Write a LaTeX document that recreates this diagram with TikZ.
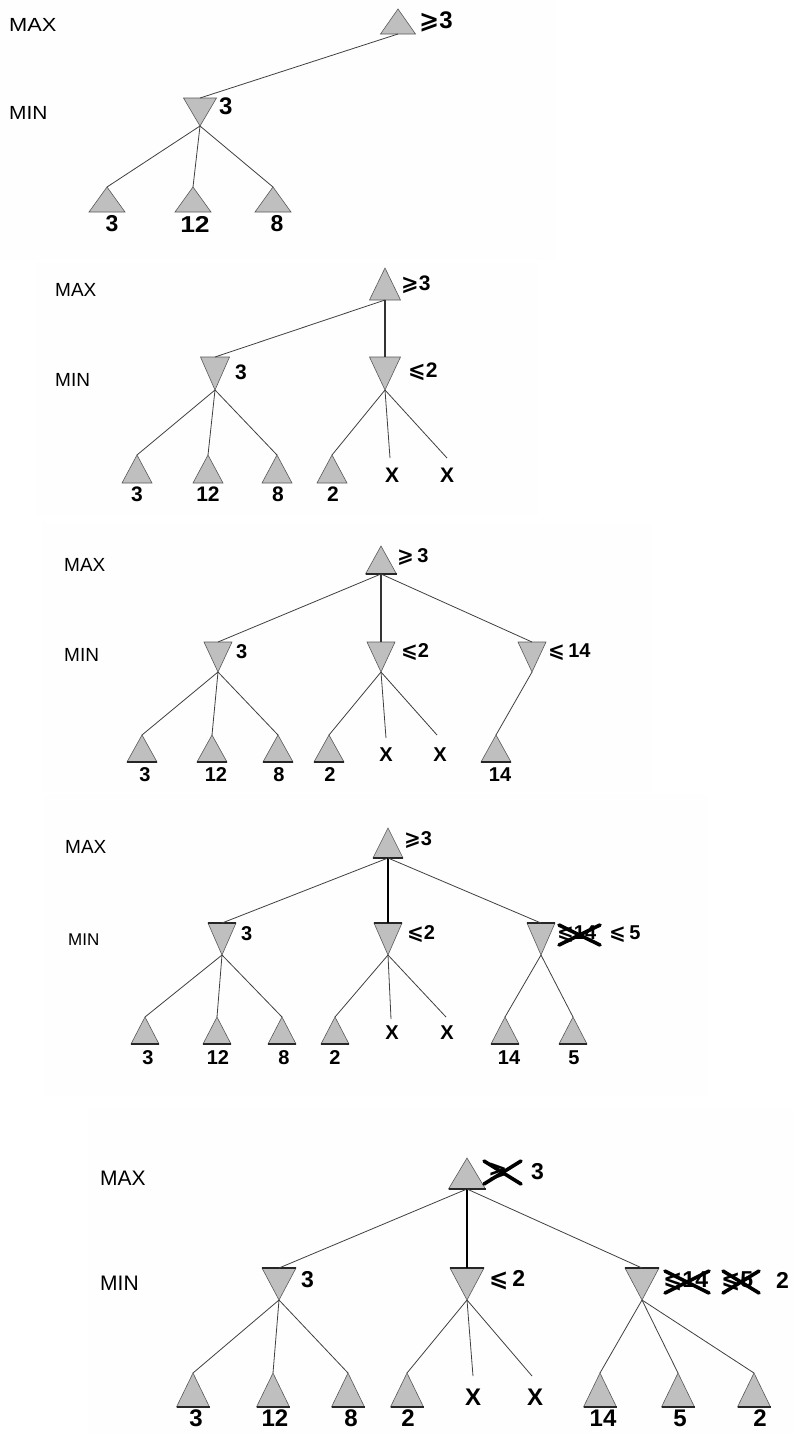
\documentclass[tikz,border=0pt]{standalone}
\usepackage{fontspec}
\setmainfont{Liberation Sans}
\newfontfamily\symb{DejaVu Sans}
\newcommand{\gqs}{{\symb ⩾}}
\newcommand{\lqs}{{\symb ⩽}}
\tikzset{
  panelbg/.style={fill=black!0.5},
  tri/.style={fill=gray!50, draw=black!65, line width=0.6pt, line join=miter},
  basel/.style={draw=black!85, line width=1.6pt},
  edge/.style={draw=black!75, line width=0.8pt},
  thickedge/.style={draw=black!80, line width=2.4pt},
  midedge/.style={draw=black, line width=1.3pt},
  crossl/.style={draw=black, line width=3.6pt, line cap=round},
  lvl/.style={anchor=west, inner sep=0pt, font=\fontsize{19}{19}\selectfont},
  val/.style={anchor=west, inner sep=0pt, font=\bfseries\fontsize{21}{21}\selectfont},
  leafv/.style={anchor=center, inner sep=0pt, font=\bfseries\fontsize{21}{21}\selectfont},
}
\newcommand{\MaxT}[5]{%
  \coordinate (#1t) at (#2,#3);
  \coordinate (#1b) at (#2,{#3+#5});
  \filldraw[tri] (#2,#3) -- ({#2-#4/2},{#3+#5}) -- ({#2+#4/2},{#3+#5}) -- cycle;}
\newcommand{\MaxTB}[5]{\MaxT{#1}{#2}{#3}{#4}{#5}%
  \draw[basel] ({#2-#4/2},{#3+#5}) -- ({#2+#4/2},{#3+#5});}
\newcommand{\MinT}[5]{%
  \coordinate (#1t) at (#2,#3);
  \coordinate (#1b) at (#2,{#3+#5});
  \filldraw[tri] ({#2-#4/2},#3) -- ({#2+#4/2},#3) -- (#2,{#3+#5}) -- cycle;}
\newcommand{\MinTB}[5]{\MinT{#1}{#2}{#3}{#4}{#5}%
  \draw[basel] ({#2-#4/2},#3) -- ({#2+#4/2},#3);}
\newcommand{\Xout}[4]{\draw[crossl] (#1,#2) -- (#3,#4); \draw[crossl] (#1,#4) -- (#3,#2);}
\begin{document}
\begin{tikzpicture}[x=1pt,y=-1pt]
\useasboundingbox (0,0) rectangle (793,1433);
% ---------------- panel backgrounds
\fill[panelbg] (0,0) rectangle (556,260);
\fill[panelbg] (36,262) rectangle (538,515);
\fill[panelbg] (42,523) rectangle (652,792);
\fill[panelbg] (44,794) rectangle (708,1095);
\fill[panelbg] (88,1108) rectangle (793,1433);

% ================= PANEL 1
\node[lvl] (p1max) at (9,25) {\scalebox{1.15}[1]{MAX}};
\node[lvl] (p1min) at (9,113) {\scalebox{1.1}[1]{MIN}};
\MaxT{p1r}{398}{9}{35}{25}
\node[val,font=\bfseries\fontsize{24}{24}\selectfont] (p1rv) at (419,22) {\gqs 3};
\MinT{p1m}{200}{98}{33}{28}
\node[val,font=\bfseries\fontsize{24}{24}\selectfont] (p1mv) at (219,106) {3};
\MaxT{p1a}{107}{187}{36}{25}
\MaxT{p1b}{193}{187}{36}{25}
\MaxT{p1c}{273}{187}{36}{25}
\begin{scope}[every node/.style={leafv,font=\bfseries\fontsize{23}{23}\selectfont}]
\node (p1av) at (112,224) {3};
\node (p1bv) at (195,224) {\scalebox{1.15}[1]{12}};
\node (p1cv) at (277,224) {8};
\end{scope}
\draw[edge] (p1rb) -- (p1mt);
\draw[edge] (p1mb) -- (p1at);
\draw[edge] (p1mb) -- (p1bt);
\draw[edge] (p1mb) -- (p1ct);

% ================= PANEL 2
\node[lvl] (p2max) at (55,290) {MAX};
\node[lvl] (p2min) at (55,380) {MIN};
\MaxT{p2r}{385}{268}{31}{32}
\node[val] (p2rv) at (401,285) {\gqs 3};
\MinT{p2m}{215}{357}{29}{33}
\node[val] (p2mv) at (235,372) {3};
\MinT{p2n}{385}{357}{31}{33}
\node[val] (p2nv) at (408,372) {\lqs 2};
\MaxT{p2a}{137}{455}{30}{28}
\MaxT{p2b}{208}{455}{30}{28}
\MaxT{p2c}{277}{455}{30}{28}
\MaxT{p2d}{332}{455}{30}{28}
\node[leafv] (p2x1) at (392,475) {X};
\node[leafv] (p2x2) at (447,475) {X};
\coordinate (p2e1) at (390,458);
\coordinate (p2e2) at (447,458);
\node[leafv] (p2av) at (137,494) {3};
\node[leafv] (p2bv) at (208,494) {12};
\node[leafv] (p2cv) at (278,494) {8};
\node[leafv] (p2dv) at (333,494) {2};
\draw[edge] (p2rb) -- (p2mt);
\draw[thickedge] (p2rb) -- (p2nt);
\draw[edge] (p2mb) -- (p2at);
\draw[edge] (p2mb) -- (p2bt);
\draw[edge] (p2mb) -- (p2ct);
\draw[edge] (p2nb) -- (p2dt);
\draw[edge] (p2nb) -- (p2e1);
\draw[edge] (p2nb) -- (p2e2);

% ================= PANEL 3
\node[lvl] (p3max) at (64,565) {MAX};
\node[lvl] (p3min) at (64,655) {MIN};
\MaxTB{p3r}{381}{546}{31}{28}
\node[val,font=\bfseries\fontsize{20}{20}\selectfont] (p3rv) at (397,557) {\gqs\,3};
\MinT{p3m}{218}{642}{28}{30}
\MinT{p3n}{381}{642}{28}{30}
\MinT{p3o}{532}{642}{28}{30}
\begin{scope}[every node/.style={val,font=\bfseries\fontsize{20}{20}\selectfont}]
\node (p3mv) at (236,652) {3};
\node (p3nv) at (401,652) {\lqs 2};
\node (p3ov) at (548,652) {\lqs\,14};
\end{scope}
\MaxTB{p3a}{142}{735}{30}{27}
\MaxTB{p3b}{212}{735}{30}{27}
\MaxTB{p3c}{278}{735}{30}{27}
\MaxTB{p3d}{329}{735}{30}{27}
\MaxTB{p3e}{496}{735}{30}{27}
\begin{scope}[every node/.style={leafv,font=\bfseries\fontsize{20}{20}\selectfont}]
\node (p3x1) at (386,755) {X};
\node (p3x2) at (440,755) {X};
\node (p3av) at (145,775) {3};
\node (p3bv) at (216,775) {12};
\node (p3cv) at (279,775) {8};
\node (p3dv) at (330,775) {2};
\node (p3ev) at (500,775) {14};
\end{scope}
\coordinate (p3e1) at (386,738);
\coordinate (p3e2) at (437,735);
\draw[edge] (p3rb) -- (p3mt);
\draw[thickedge] (p3rb) -- (p3nt);
\draw[edge] (p3rb) -- (p3ot);
\draw[edge] (p3mb) -- (p3at);
\draw[edge] (p3mb) -- (p3bt);
\draw[edge] (p3mb) -- (p3ct);
\draw[edge] (p3nb) -- (p3dt);
\draw[edge] (p3nb) -- (p3e1);
\draw[edge] (p3nb) -- (p3e2);
\draw[edge] (p3ob) -- (p3et);

% ================= PANEL 4
\node[lvl] (p4max) at (65,847) {MAX};
\node[lvl,font=\fontsize{17}{17}\selectfont] (p4min) at (68,940) {MIN};
\MaxTB{p4r}{388}{828}{30}{30}
\node[val,font=\bfseries\fontsize{20}{20}\selectfont] (p4rv) at (404,840) {\gqs 3};
\MinTB{p4m}{222}{923}{28}{32}
\MinTB{p4n}{388}{923}{28}{32}
\MinTB{p4o}{541}{923}{28}{32}
\begin{scope}[every node/.style={val,font=\bfseries\fontsize{20}{20}\selectfont}]
\node (p4mv) at (241,934) {3};
\node (p4nv) at (407,934) {\lqs 2};
\node (p4ov) at (557,934) {\lqs 14};
\node (p4ow) at (609,934) {\lqs\,5};
\end{scope}
\Xout{559}{925}{600}{945}
\MaxTB{p4a}{145}{1017}{28}{27}
\MaxTB{p4b}{217}{1017}{28}{27}
\MaxTB{p4c}{282}{1017}{28}{27}
\MaxTB{p4d}{335}{1017}{28}{27}
\MaxTB{p4e}{505}{1017}{28}{27}
\MaxTB{p4f}{573}{1017}{28}{27}
\begin{scope}[every node/.style={leafv,font=\bfseries\fontsize{20}{20}\selectfont}]
\node (p4x1) at (392,1033) {X};
\node (p4x2) at (447,1033) {X};
\node (p4av) at (148,1058) {3};
\node (p4bv) at (218,1058) {12};
\node (p4cv) at (284,1058) {8};
\node (p4dv) at (335,1058) {2};
\node (p4ev) at (509,1058) {14};
\node (p4fv) at (574,1058) {5};
\end{scope}
\coordinate (p4e1) at (391,1019);
\coordinate (p4e2) at (446,1017);
\draw[edge] (p4rb) -- (p4mt);
\draw[midedge] (p4rb) -- (p4nt);
\draw[edge] (p4rb) -- (p4ot);
\draw[edge] (p4mb) -- (p4at);
\draw[edge] (p4mb) -- (p4bt);
\draw[edge] (p4mb) -- (p4ct);
\draw[edge] (p4nb) -- (p4dt);
\draw[edge] (p4nb) -- (p4e1);
\draw[edge] (p4nb) -- (p4e2);
\draw[edge] (p4ob) -- (p4et);
\draw[edge] (p4ob) -- (p4ft);

% ================= PANEL 5
\node[lvl,font=\fontsize{21}{21}\selectfont] (p5max) at (100,1178) {MAX};
\node[lvl,font=\fontsize{21}{21}\selectfont] (p5min) at (100,1283) {MIN};
\MaxTB{p5r}{467}{1158}{37}{31}
\begin{scope}[every node/.style={val,font=\bfseries\fontsize{23}{23}\selectfont}]
\node (p5rx) at (488,1172) {\gqs};
\node (p5rv) at (531,1172) {3};
\end{scope}
\Xout{484}{1161}{521}{1184}
\MinTB{p5m}{279}{1268}{34}{32}
\MinTB{p5n}{467}{1268}{34}{32}
\MinTB{p5o}{642}{1268}{34}{32}
\begin{scope}[every node/.style={val,font=\bfseries\fontsize{23}{23}\selectfont}]
\node (p5mv) at (301,1280) {3};
\node (p5nv) at (489,1280) {\lqs\,2};
\node (p5ov) at (663,1281) {\lqs 14};
\node (p5ow) at (721,1281) {\lqs 5};
\node (p5ox) at (776,1280) {2};
\end{scope}
\Xout{665}{1271}{709}{1293}
\Xout{723}{1271}{759}{1293}
\MaxTB{p5a}{193}{1373}{33}{34}
\MaxTB{p5b}{273}{1373}{33}{34}
\MaxTB{p5c}{348}{1373}{33}{34}
\MaxTB{p5d}{407}{1373}{33}{34}
\MaxTB{p5e}{600}{1373}{33}{34}
\MaxTB{p5f}{678}{1373}{33}{34}
\MaxTB{p5g}{754}{1373}{33}{34}
\begin{scope}[every node/.style={leafv,font=\bfseries\fontsize{24}{24}\selectfont}]
\node (p5x1) at (473,1397) {X};
\node (p5x2) at (535,1397) {X};
\node (p5av) at (196,1418) {3};
\node (p5bv) at (275,1418) {12};
\node (p5cv) at (351,1418) {8};
\node (p5dv) at (408,1418) {2};
\node (p5ev) at (603,1418) {14};
\node (p5fv) at (680,1418) {5};
\node (p5gv) at (760,1418) {2};
\end{scope}
\coordinate (p5e1) at (473,1376);
\coordinate (p5e2) at (532,1376);
\draw[edge] (p5rb) -- (p5mt);
\draw[midedge] (p5rb) -- (p5nt);
\draw[edge] (p5rb) -- (p5ot);
\draw[edge] (p5mb) -- (p5at);
\draw[edge] (p5mb) -- (p5bt);
\draw[edge] (p5mb) -- (p5ct);
\draw[edge] (p5nb) -- (p5dt);
\draw[edge] (p5nb) -- (p5e1);
\draw[edge] (p5nb) -- (p5e2);
\draw[edge] (p5ob) -- (p5et);
\draw[edge] (p5ob) -- (p5ft);
\draw[edge] (p5ob) -- (p5gt);
\end{tikzpicture}
\end{document}
